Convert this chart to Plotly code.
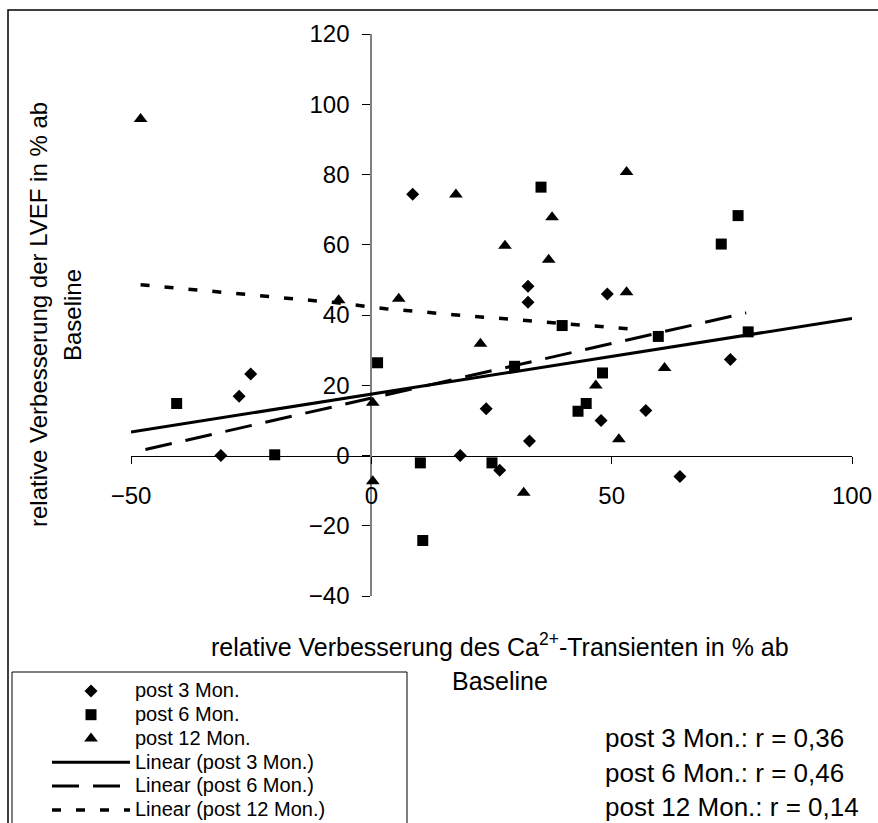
import plotly.graph_objects as go

# ---------------- data ----------------
x_3m = [-25.1, -27.5, -31.3, 8.6, 18.5, 23.9, 26.7, 32.9, 32.6, 32.6, 47.8, 49.1, 57.1, 64.2, 74.7]
y_3m = [23.2, 16.9, 0.0, 74.4, 0.0, 13.3, -4.2, 4.1, 48.2, 43.6, 10.0, 46.0, 12.8, -6.0, 27.3]

x_6m = [-40.5, -20.1, 1.3, 10.2, 10.7, 25.1, 29.8, 35.3, 39.7, 43.0, 44.7, 48.1, 59.7, 72.8, 76.3, 78.4]
y_6m = [14.8, 0.2, 26.4, -2.1, -24.2, -2.1, 25.4, 76.4, 37.0, 12.6, 14.8, 23.5, 33.9, 60.2, 68.3, 35.2]

x_12m = [-48.0, -6.8, 0.3, 0.3, 5.7, 17.6, 22.7, 27.8, 31.7, 36.9, 37.6, 46.7, 51.5, 53.1, 53.1, 61.0]
y_12m = [95.8, 44.2, 15.0, -7.3, 44.6, 74.3, 31.8, 59.7, -10.6, 55.7, 67.8, 19.9, 4.6, 80.7, 46.5, 24.9]

trend_3m_x = [-50, 100]
trend_3m_y = [6.7, 39.0]
trend_6m_x = [-47, 78]
trend_6m_y = [1.7, 40.6]
trend_12m_x = [-48, -8, 3, 17, 55]
trend_12m_y = [48.6, 43.6, 41.8, 40.1, 35.9]

series_names = ["post 3 Mon.", "post 6 Mon.", "post 12 Mon."]
trend_names = ["Linear (post 3 Mon.)", "Linear (post 6 Mon.)", "Linear (post 12 Mon.)"]
r_labels = ["post 3 Mon.: r = 0,36", "post 6 Mon.: r = 0,46", "post 12 Mon.: r = 0,14"]

x_ticks = [-50, 0, 50, 100]
x_range = [-50, 100]
y_range = [-40, 120]

x_title_1 = "relative Verbesserung des Ca<sup>2+</sup>-Transienten in % ab"
x_title_2 = "Baseline"
y_title_1 = "relative Verbesserung der LVEF in % ab"
y_title_2 = "Baseline"

# ---------------- layout helpers ----------------
W, H = 878, 823
L, R, T, B = 131, 26, 34, 227
PW, PH = W - L - R, H - T - B
FONT = "Liberation Sans, Arial, sans-serif"
LEG_TEXT_SIZE = 20


def px(xp):
    return (xp - L) / PW


def py(yp):
    return (H - B - yp) / PH


def leg(name):
    return f'<span style="font-size:{LEG_TEXT_SIZE}px">{name}</span>'


fig = go.Figure()

fig.add_trace(go.Scatter(x=x_3m, y=y_3m, mode="markers", name=leg(series_names[0]),
                         marker=dict(symbol="diamond", size=10, color="black")))
fig.add_trace(go.Scatter(x=x_6m, y=y_6m, mode="markers", name=leg(series_names[1]),
                         marker=dict(symbol="square", size=11, color="black")))
fig.add_trace(go.Scatter(x=x_12m, y=y_12m, mode="markers", name=leg(series_names[2]),
                         marker=dict(symbol="triangle-up", size=12, color="black")))

fig.add_trace(go.Scatter(x=trend_3m_x, y=trend_3m_y, mode="lines", name=leg(trend_names[0]),
                         line=dict(color="black", width=3)))
fig.add_trace(go.Scatter(x=trend_6m_x, y=trend_6m_y, mode="lines", name=leg(trend_names[1]),
                         line=dict(color="black", width=3, dash="27px,14px")))
fig.add_trace(go.Scatter(x=trend_12m_x, y=trend_12m_y, mode="lines", name=leg(trend_names[2]),
                         line=dict(color="black", width=3.5, dash="9px,15px")))

x_pos = (0 - y_range[0]) / (y_range[1] - y_range[0])
y_pos = (0 - x_range[0]) / (x_range[1] - x_range[0])

annotations = [
    dict(text=x_title_1, x=px(500), y=py(645), xref="paper", yref="paper",
         showarrow=False, xanchor="center", yanchor="middle",
         font=dict(size=25, family=FONT, color="black")),
    dict(text=x_title_2, x=px(500), y=py(681), xref="paper", yref="paper",
         showarrow=False, xanchor="center", yanchor="middle",
         font=dict(size=25, family=FONT, color="black")),
    dict(text=y_title_1, x=px(38), y=py(315), xref="paper", yref="paper",
         showarrow=False, xanchor="center", yanchor="middle", textangle=-90,
         font=dict(size=24, family=FONT, color="black")),
    dict(text=y_title_2, x=px(72), y=py(315), xref="paper", yref="paper",
         showarrow=False, xanchor="center", yanchor="middle", textangle=-90,
         font=dict(size=24, family=FONT, color="black")),
]
for lbl, yy in zip(r_labels, [738, 773, 807]):
    annotations.append(dict(text=lbl, x=px(603), y=py(yy), xref="paper", yref="paper",
                            showarrow=False, xanchor="left", yanchor="middle",
                            font=dict(size=26, family=FONT, color="black")))

shapes = [
    dict(type="rect", xref="paper", yref="paper", x0=px(8), x1=px(880), y0=py(830), y1=py(10),
         line=dict(color="black", width=1.5)),
    dict(type="rect", xref="paper", yref="paper", x0=px(12), x1=px(407), y0=py(830), y1=py(672),
         line=dict(color="black", width=1)),
]

fig.update_layout(
    width=W, height=H,
    margin=dict(l=L, r=R, t=T, b=B, autoexpand=False),
    paper_bgcolor="white", plot_bgcolor="white",
    font=dict(family=FONT, size=24, color="black"),
    showlegend=True,
    legend=dict(x=px(47), y=py(674), xanchor="left", yanchor="top",
                itemwidth=78, font=dict(size=16, family=FONT, color="black"),
                bgcolor="rgba(0,0,0,0)", borderwidth=0),
    xaxis=dict(range=x_range, tickvals=x_ticks, anchor="free", position=x_pos,
               showline=True, linecolor="black", linewidth=1,
               ticks="outside", ticklen=7, tickcolor="black", tickwidth=1,
               showgrid=False, zeroline=False, layer="below traces",
               tickfont=dict(size=24, family=FONT, color="black"),
               ticklabelstandoff=12),
    yaxis=dict(range=y_range, dtick=20, tick0=0, anchor="free", position=y_pos,
               showline=True, linecolor="#808080", linewidth=2,
               ticks="outside", ticklen=8, tickcolor="black", tickwidth=1,
               showgrid=False, zeroline=False, layer="below traces",
               tickfont=dict(size=24, family=FONT, color="black"),
               ticklabelstandoff=8),
    annotations=annotations,
    shapes=shapes,
)

fig.write_html("out.html")
